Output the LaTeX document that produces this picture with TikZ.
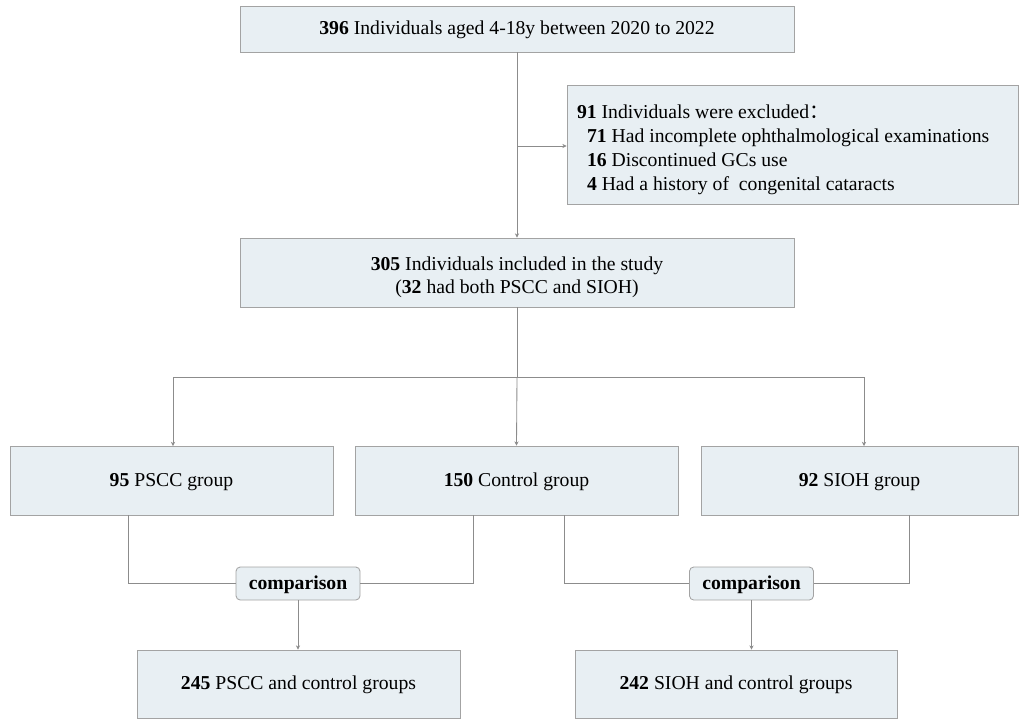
\documentclass[tikz,border=0pt]{standalone}
\usepackage{fontspec}
\setmainfont{Liberation Serif}
\newfontfamily\cjk{Noto Sans CJK SC}
\usetikzlibrary{arrows.meta}
\definecolor{boxfill}{HTML}{E8EFF3}
\definecolor{boxline}{HTML}{A3A3A3}
\definecolor{linkgray}{HTML}{8C8C8C}
\begin{document}
\begin{tikzpicture}[box/.style={draw=boxline, fill=boxfill, line width=0.6pt, inner sep=2pt, align=center, font=\fontsize{14}{16.5}\selectfont},
    oneline/.style={box, text height=0.95em, text depth=0.15em},
    cmp/.style={oneline, rounded corners=3pt, minimum width=3.1cm, minimum height=0.825cm, font=\fontsize{14}{16.5}\selectfont\bfseries},
    link/.style={draw=linkgray, line width=0.6pt},
    arr/.style={link, -{Stealth[length=3pt, width=3pt]}}]
      \useasboundingbox (0,0) rectangle (25.475,-18);

      \node[oneline, minimum width=13.85cm, minimum height=1.15cm] (total) at (12.925,-0.725) {\textbf{396} Individuals aged 4-18y between 2020 to 2022};
      \node[box, minimum width=11.275cm, minimum height=2.975cm, inner xsep=0.25cm, text width=10.775cm, align=flush left, text height=17pt, font=\fontsize{14}{17}\selectfont] (excl) at (19.8125,-3.6125)
        {\textbf{91} Individuals were excluded{\cjk ：}\\
         \hspace*{0.25cm}\textbf{71} Had incomplete ophthalmological examinations\\
         \hspace*{0.25cm}\textbf{16} Discontinued GCs use\\
         \hspace*{0.25cm}\textbf{4} Had a history of \ congenital cataracts};
      \node[box, minimum width=13.85cm, minimum height=1.725cm, text width=13.4cm, align=flush center, text height=16pt] (incl) at (12.925,-6.8125) {\textbf{305} Individuals included in the study\\(\textbf{32} had both PSCC and SIOH)};

      \node[oneline, minimum width=8.075cm, minimum height=1.725cm] (pscc) at (4.2875,-12.0125) {\textbf{95} PSCC group};
      \node[oneline, minimum width=8.075cm, minimum height=1.725cm] (ctrl) at (12.9125,-12.0125) {\textbf{150} Control group};
      \node[oneline, minimum width=7.925cm, minimum height=1.725cm] (sioh) at (21.4875,-12.0125) {\textbf{92} SIOH group};

      \node[cmp] (cmpa) at (7.45,-14.5875) {comparison};
      \node[cmp] (cmpb) at (18.7875,-14.5875) {comparison};

      \node[oneline, minimum width=8.075cm, minimum height=1.7cm] (resa) at (7.4625,-17.1) {\textbf{245} PSCC and control groups};
      \node[oneline, minimum width=8.05cm, minimum height=1.7cm] (resb) at (18.4,-17.1) {\textbf{242} SIOH and control groups};

      \coordinate (split) at (12.925,-3.65);
      \coordinate (fork) at (12.925,-9.425);

      % top part
      \draw[link] (total.south) -- (split);
      \draw[arr] (split) -- (split -| excl.west);
      \draw[arr] (split) -- (incl.north);

      % three groups
      \draw[link] (incl.south) -- (fork);
      \draw[link] (fork -| 4.325,0) -- (fork -| 21.6,0);
      \draw[arr] (4.325,-9.425) -- (4.325,-11.15);
      \draw[arr] (fork) -- (ctrl.north);
      \draw[arr] (21.6,-9.425) -- (21.6,-11.15);

      % comparisons
      \draw[link] (3.2,-12.875) |- (cmpa.west);
      \draw[link] (11.825,-12.875) |- (cmpa.east);
      \draw[link] (14.1,-12.875) |- (cmpb.west);
      \draw[link] (22.725,-12.875) |- (cmpb.east);
      \draw[arr] (cmpa.south) -- (cmpa.south |- resa.north);
      \draw[arr] (cmpb.south) -- (cmpb.south |- resb.north);
    \end{tikzpicture}
\end{document}
